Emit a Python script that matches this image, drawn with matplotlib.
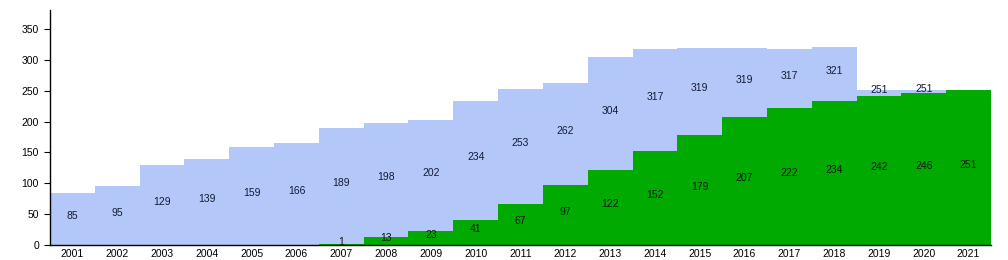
import matplotlib
matplotlib.use("Agg")
import matplotlib.pyplot as plt

plt.rcParams["font.family"] = ["Liberation Sans", "DejaVu Sans"]

years = list(range(2001, 2022))
total = [85, 95, 129, 139, 159, 166, 189, 198, 202, 234, 253, 262, 304, 317,
         319, 319, 317, 321, 251, 251, 251]
green = [0, 0, 0, 0, 0, 0, 1, 13, 23, 41, 67, 97, 122, 152, 179, 207, 222,
         234, 242, 246, 251]

BLUE = "#b3c8f8"
GREEN = "#00aa00"

fig = plt.figure(figsize=(10.08, 2.6), dpi=100)
ax = fig.add_axes([50/1008, 15/260, 941/1008, 235/260])

ax.bar(years, total, width=1.0, color=BLUE, linewidth=0)
ax.bar(years, green, width=1.0, color=GREEN, linewidth=0)

for y, t, g in zip(years, total, green):
    if t > g:
        ax.text(y, (t + g) / 2 + 5, str(t), ha="center", va="center",
                fontsize=7.5, color="#141c38")
    if g > 0:
        ax.text(y, g / 2 + 5, str(g), ha="center", va="center",
                fontsize=7.5, color="#061806")

ax.set_xlim(2000.5, 2021.5)
ax.set_ylim(0, 381)
ax.set_xticks(years)
ax.set_xticklabels([str(y) for y in years])
ax.set_yticks(range(0, 351, 50))
ax.tick_params(axis="x", length=0, labelsize=7.5, pad=3)
ax.tick_params(axis="y", length=4, width=0.8, labelsize=7.5, pad=4)
for s in ("top", "right"):
    ax.spines[s].set_visible(False)
for s in ("left", "bottom"):
    ax.spines[s].set_linewidth(1.0)
    ax.spines[s].set_color("black")

fig.savefig("out.png", dpi=100)
